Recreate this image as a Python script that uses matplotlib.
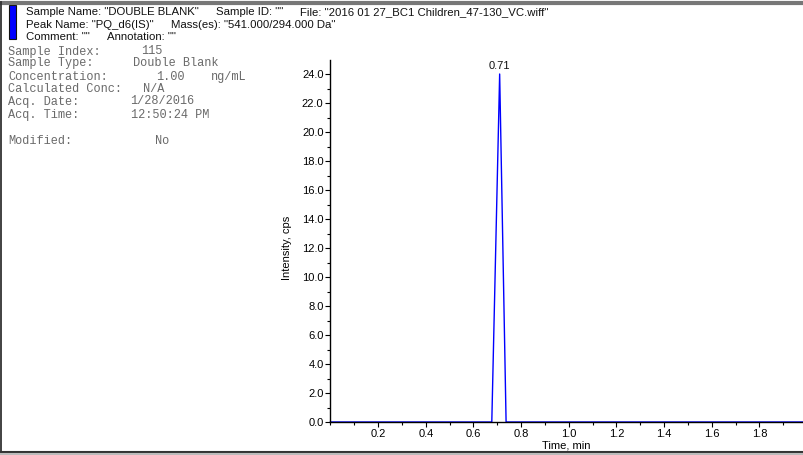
import matplotlib
matplotlib.use("Agg")
import matplotlib.pyplot as plt
from matplotlib.lines import Line2D
from matplotlib.patches import Rectangle
from matplotlib.ticker import MultipleLocator, FixedLocator, FormatStrFormatter

# ---- data ----
times = [0.0, 0.677, 0.710, 0.737, 1.99]
intensity = [0.0, 0.0, 24.0, 0.0, 0.0]
peak_time = 0.71
peak_label = "0.71"
x_ticks = [0.2, 0.4, 0.6, 0.8, 1.0, 1.2, 1.4, 1.6, 1.8]
y_ticks = [0, 2, 4, 6, 8, 10, 12, 14, 16, 18, 20, 22, 24]

header_lines = [
    ['Sample Name: "DOUBLE BLANK"', 'Sample ID: ""',
     'File: "2016 01 27_BC1 Children_47-130_VC.wiff"'],
    ['Peak Name: "PQ_d6(IS)"', 'Mass(es): "541.000/294.000 Da"'],
    ['Comment: ""', 'Annotation: ""'],
]
header_y = [12, 25, 37]
info_rows = [
    (51.5, [(8, "Sample Index:"), (141, "115")]),
    (63, [(8, "Sample Type:"), (133, "Double Blank")]),
    (77, [(8, "Concentration:"), (156, "1.00"), (211, "ng/mL")]),
    (89.5, [(8, "Calculated Conc:"), (143, "N/A")]),
    (101.5, [(8, "Acq. Date:"), (130, "1/28/2016")]),
    (115, [(8, "Acq. Time:"), (131, "12:50:24 PM")]),
    (141, [(8, "Modified:"), (155, "No")]),
]

W, H = 804, 455
fig = plt.figure(figsize=(W / 100, H / 100), dpi=100)
fig.patch.set_facecolor("white")

def fx(px):
    return px / W

def fy(py):
    return 1 - py / H

# axes geometry (pixels)
ax_left, ax_bottom, ax_top = 330.5, 422.0, 60.0
y24_px = 74.0
ppu = (ax_bottom - y24_px) / 24.0
ax = fig.add_axes([fx(ax_left), fy(ax_bottom), fx(W - ax_left), (ax_bottom - ax_top) / H])
ymax = 24.0 + (y24_px - ax_top) / ppu
xmax = (W - ax_left) / 238.25
ax.set_xlim(0, xmax)
ax.set_ylim(0, ymax)

ax.plot(times, intensity, color="#0000FF", lw=1.0, zorder=1, clip_on=False)
ax.text(peak_time, 24.0 + 8 / ppu, peak_label, ha="center", va="center",
        fontsize=8, family="Liberation Sans", color="#111111")

for s in ["top", "right"]:
    ax.spines[s].set_visible(False)
for s in ["left", "bottom"]:
    ax.spines[s].set_linewidth(1.0)
    ax.spines[s].set_zorder(3)

ax.xaxis.set_major_locator(FixedLocator(x_ticks))
ax.xaxis.set_minor_locator(MultipleLocator(0.1))
ax.yaxis.set_major_locator(FixedLocator(y_ticks))
ax.yaxis.set_minor_locator(MultipleLocator(1.0))
ax.xaxis.set_major_formatter(FormatStrFormatter("%.1f"))
ax.yaxis.set_major_formatter(FormatStrFormatter("%.1f"))
ax.tick_params(axis="both", which="major", direction="out", length=3.5, width=0.8,
               labelsize=8, pad=1.5)
ax.tick_params(axis="both", which="minor", direction="out", length=2, width=0.8)
for lab in ax.get_xticklabels() + ax.get_yticklabels():
    lab.set_family("Liberation Sans")

fig.text(fx(287), fy(248), "Intensity, cps", rotation=90, ha="center", va="center",
         fontsize=8, family="Liberation Sans")
fig.text(fx(566), fy(446), "Time, min", ha="center", va="center",
         fontsize=8, family="Liberation Sans")

# header: items placed one after another with a fixed gap
renderer = fig.canvas.get_renderer()
gap_px = 17
for yy, row in zip(header_y, header_lines):
    x = 26
    for t in row:
        txt = fig.text(fx(x), fy(yy), t, ha="left", va="center", fontsize=8.2,
                       family="Liberation Sans", color="#111111")
        bb = txt.get_window_extent(renderer=renderer)
        x = bb.x1 + gap_px

for yy, items in info_rows:
    for x, t in items:
        fig.text(fx(x), fy(yy), t, ha="left", va="center", fontsize=8.6,
                 family="Liberation Mono", color="#6a6a6a")

# blue marker box
fig.patches.append(Rectangle((fx(9), fy(39)), fx(7.5), (39 - 5) / H, transform=fig.transFigure,
                             facecolor="#0000FF", edgecolor="#111111", lw=0.8))

# frame lines
fig.lines.append(Line2D([0, 1], [fy(2.5), fy(2.5)], transform=fig.transFigure,
                        color="#777777", lw=3))
fig.lines.append(Line2D([fx(0.8), fx(0.8)], [fy(2), fy(452)], transform=fig.transFigure,
                        color="#333333", lw=1.3))
fig.lines.append(Line2D([0, 1], [fy(451.5), fy(451.5)], transform=fig.transFigure,
                        color="#333333", lw=1.5))
fig.lines.append(Line2D([0, 1], [fy(453.5), fy(453.5)], transform=fig.transFigure,
                        color="#bbbbbb", lw=1.5))

fig.savefig("out.png", dpi=100)
